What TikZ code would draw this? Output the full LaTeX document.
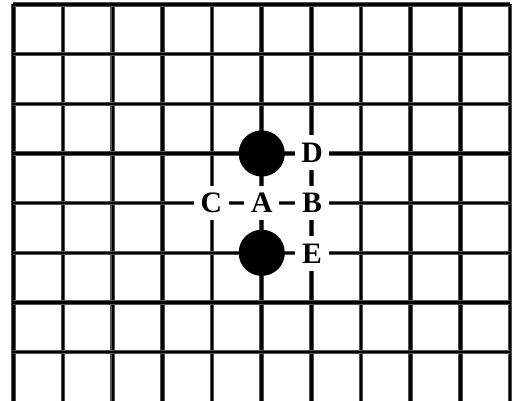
\documentclass[tikz,border=0pt]{standalone}
\usepackage{fontspec}
\setmainfont{Liberation Serif}
\usetikzlibrary{positioning}

\begin{document}
\begin{tikzpicture}[
                node distance=0.3cm,
                gridline/.style={line width=2.6pt, color=black!68},
                gridcore/.style={line width=1.4pt, color=black},
                stone/.style={circle, fill=black, minimum size=0.93cm, inner sep=0pt},
                ptlabel/.style={fill=white, minimum width=0.7cm, minimum height=0.7cm,
                    inner sep=0pt, font=\fontsize{17}{18}\selectfont\bfseries}
            ]
                \useasboundingbox (-0.27,0.02) rectangle (10.06,8.09);
                % the board
                \foreach \x in {0,...,10} {
                    \draw[gridline] (\x,8) -- (\x,0.02);
                    \draw[gridcore] (\x,8) -- (\x,0.02);
                }
                \foreach \y in {1,...,8} {
                    \draw[gridline] (0,\y) -- (10,\y);
                    \draw[gridcore] (0,\y) -- (10,\y);
                }
                % stones
                \node[stone] (upper) at (5,5) {};
                \node[stone] (lower) at (5,3) {};
                % points
                \node[ptlabel] (A) at (5,4) {A};
                \node[ptlabel] (B) [right=of A] {B};
                \node[ptlabel] (C) [left=of A]  {C};
                \node[ptlabel] (D) [above=of B] {D};
                \node[ptlabel] (E) [below=of B] {E};
            \end{tikzpicture}
\end{document}
